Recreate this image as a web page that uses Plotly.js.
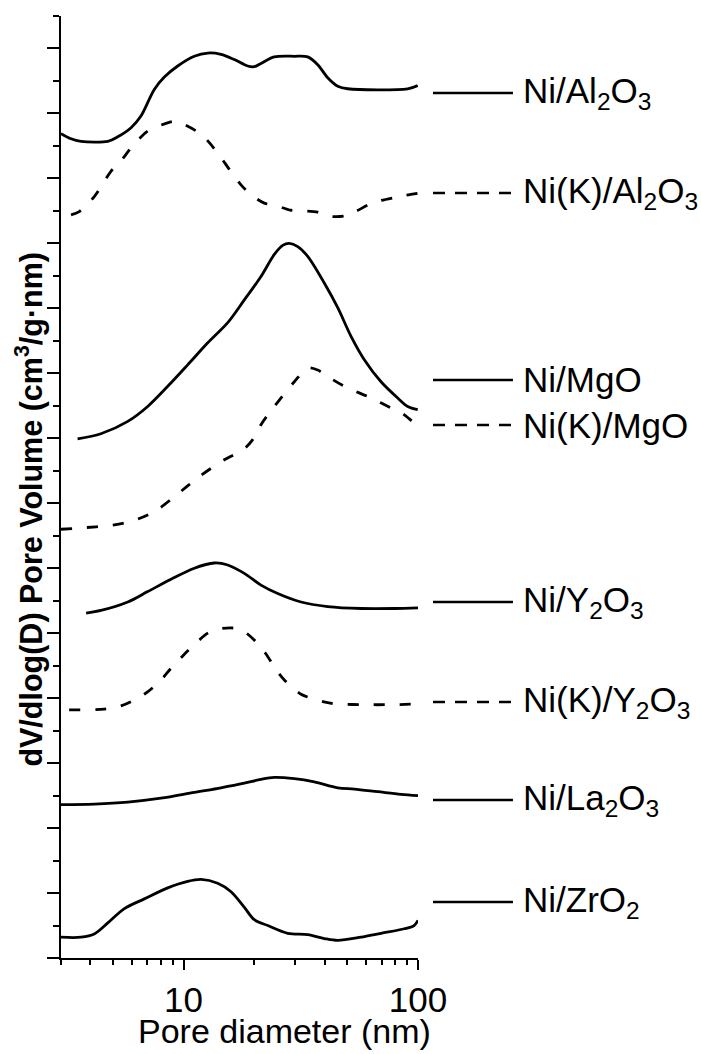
<!DOCTYPE html>
<html>
<head>
<meta charset="utf-8">
<script src="https://cdn.plot.ly/plotly-3.0.1.min.js"></script>
<style>html,body{margin:0;padding:0;background:#fff;}#chart{width:701px;height:1054px;}</style>
</head>
<body>
<div id="chart"></div>
<script>
// ---- data (pore diameter in nm, offset-stacked dV/dlog(D), arbitrary units) ----
const seriesNames = ['Ni/Al<sub>2</sub>O<sub>3</sub>', 'Ni(K)/Al<sub>2</sub>O<sub>3</sub>', 'Ni/MgO', 'Ni(K)/MgO',
  'Ni/Y<sub>2</sub>O<sub>3</sub>', 'Ni(K)/Y<sub>2</sub>O<sub>3</sub>', 'Ni/La<sub>2</sub>O<sub>3</sub>', 'Ni/ZrO<sub>2</sub>'];

const alX = [3.00,3.31,3.65,4.75,5.24,5.97,6.58,7.50,8.28,9.44,11.11,12.68,14.44,16.46,18.77,20.03,21.39,24.38,29.68,33.85,37.34,41.19,45.46,50.14,90.4,99.7];
const alY = [12.69,12.61,12.57,12.57,12.64,12.78,12.96,13.37,13.56,13.73,13.88,13.93,13.91,13.83,13.73,13.72,13.77,13.87,13.88,13.87,13.75,13.55,13.42,13.38,13.38,13.43];

const kAlX = [3.31,3.59,4.16,4.90,5.32,6.07,7.03,7.76,9.13,10.07,11.87,12.88,14.44,15.67,17.58,19.40,22.10,24.38,28.73,31.70,37.34,41.19,48.49,53.50,62.00,69.55,80.59,88.9,100];
const kAlY = [11.44,11.49,11.72,12.11,12.24,12.50,12.73,12.80,12.88,12.83,12.68,12.55,12.32,12.14,11.90,11.75,11.62,11.59,11.51,11.50,11.48,11.42,11.42,11.48,11.60,11.66,11.71,11.74,11.77];

const mgX = [3.53,4.44,5.78,7.03,8.56,10.41,12.68,15.43,18.16,21.39,24.38,26.48,28.26,30.69,33.85,39.83,45.46,51.80,59.02,69.55,81.93,90.4,99.7];
const mgY = [7.99,8.07,8.26,8.49,8.80,9.13,9.47,9.78,10.13,10.49,10.83,10.97,11.00,10.95,10.80,10.39,10.01,9.57,9.21,8.87,8.62,8.49,8.44];

const kMgX = [3.00,3.65,4.90,5.97,7.50,9.13,11.67,14.92,17.88,19.72,21.39,24.38,29.68,33.85,37.34,41.19,48.49,63.03,79.25,87.44,99.7];
const kMgY = [6.60,6.62,6.66,6.72,6.87,7.10,7.41,7.67,7.82,7.98,8.21,8.49,8.87,9.08,9.05,8.95,8.80,8.62,8.44,8.36,8.18];

const yX = [3.84,4.44,5.78,7.03,8.84,11.11,13.52,15.43,18.16,21.39,25.21,31.70,41.19,57.15,79.25,100];
const yY = [5.31,5.35,5.48,5.64,5.83,6.00,6.08,6.05,5.92,5.74,5.61,5.48,5.41,5.38,5.38,5.39];

const kYX = [3.25,4.59,5.41,6.80,8.01,8.84,9.92,10.94,12.68,13.98,16.20,17.88,20.72,22.47,24.80,26.90,31.70,34.97,41.19,45.46,57.15,79.25,100];
const kYY = [3.82,3.83,3.88,4.06,4.28,4.46,4.65,4.80,5.00,5.06,5.08,5.04,4.84,4.68,4.44,4.28,4.06,4.00,3.93,3.91,3.90,3.90,3.91];

const laX = [3.00,4.16,5.78,8.01,11.11,14.44,18.16,21.39,24.38,29.68,36.12,45.46,53.50,67.33,84.65,100];
const laY = [2.36,2.37,2.40,2.46,2.55,2.62,2.69,2.75,2.78,2.76,2.71,2.62,2.60,2.56,2.52,2.50];

const zrX = [3.00,3.65,4.16,4.75,5.59,6.80,8.56,10.41,11.87,13.98,15.94,18.16,20.03,22.85,27.82,33.85,39.83,45.46,57.15,69.55,87.44,96.2,100];
const zrY = [0.32,0.32,0.37,0.54,0.76,0.91,1.08,1.18,1.21,1.15,1.02,0.78,0.59,0.50,0.38,0.36,0.30,0.27,0.32,0.38,0.45,0.50,0.58];

const xMajorTicks = [10, 100];
const xMinorTicks = [3,4,5,6,7,8,9,20,30,40,50,60,70,80,90];
const xTickText = ['10', '100'];

// ---- styling / layout ----
const FONT = 'Liberation Sans, Arial, Helvetica, sans-serif';
const dashed = [false, true, false, true, false, true, false, false];
const xs = [alX, kAlX, mgX, kMgX, yX, kYX, laX, zrX];
const ys = [alY, kAlY, mgY, kMgY, yY, kYY, laY, zrY];
const legendY = [0.9183, 0.8121, 0.6136, 0.5658, 0.3779, 0.2718, 0.1677, 0.0594];

const traces = xs.map((x, i) => ({
  x: x, y: ys[i], type: 'scatter', mode: 'lines', name: seriesNames[i],
  line: {color: '#000', width: 2.8, shape: 'spline', smoothing: 0.9, dash: dashed[i] ? '11px,15px' : 'solid'},
  showlegend: false, hoverinfo: 'skip'
}));

const shapes = [];
const annotations = [];
legendY.forEach((yy, i) => {
  shapes.push({type: 'line', xref: 'paper', yref: 'paper', x0: 1.042, x1: 1.266, y0: yy, y1: yy,
    line: {color: '#000', width: 2.5, dash: dashed[i] ? '12px,10px' : 'solid'}});
  annotations.push({xref: 'paper', yref: 'paper', x: 1.289, y: yy, xanchor: 'left', yanchor: 'middle',
    text: seriesNames[i], showarrow: false, font: {family: FONT, size: 35, color: '#000'}});
});
annotations.push({xref: 'paper', yref: 'paper', x: 0.625, y: -0.0775, xanchor: 'center', yanchor: 'middle',
  text: 'Pore diameter (nm)', showarrow: false, font: {family: FONT, size: 34, color: '#000'}});
annotations.push({xref: 'paper', yref: 'paper', x: -0.087, y: 0.477, xanchor: 'center', yanchor: 'middle', textangle: -90,
  text: '<b>dV/dlog(D) Pore Volume (cm<sup>3</sup>/g·nm)</b>', showarrow: false, font: {family: FONT, size: 30.5, color: '#000'}});

const layout = {
  width: 701, height: 1054,
  margin: {l: 61, r: 283, t: 16, b: 96, pad: 0},
  paper_bgcolor: '#fff', plot_bgcolor: '#fff',
  showlegend: false,
  font: {family: FONT, size: 35, color: '#000'},
  xaxis: {
    type: 'log', range: [Math.log10(3), 2], showgrid: false, zeroline: false,
    showline: true, linecolor: '#000', linewidth: 2,
    ticks: 'outside', ticklen: 10, tickwidth: 2, tickcolor: '#000',
    tickmode: 'array', tickvals: xMajorTicks, ticktext: xTickText,
    tickfont: {family: FONT, size: 35, color: '#000'},
    minor: {tickmode: 'array', tickvals: xMinorTicks, ticks: 'outside', ticklen: 5, tickwidth: 2, tickcolor: '#000', showgrid: false},
    fixedrange: true
  },
  yaxis: {
    range: [0, 14.5], showgrid: false, zeroline: false,
    showline: true, linecolor: '#000', linewidth: 2,
    ticks: 'outside', ticklen: 12, tickwidth: 2, tickcolor: '#000',
    tickmode: 'linear', tick0: 0, dtick: 1, showticklabels: false,
    minor: {tickmode: 'linear', tick0: 0.5, dtick: 1, ticks: 'outside', ticklen: 6, tickwidth: 2, tickcolor: '#000', showgrid: false},
    fixedrange: true
  },
  shapes: shapes,
  annotations: annotations
};

Plotly.newPlot('chart', traces, layout, {displayModeBar: false, staticPlot: true});
</script>
</body>
</html>
